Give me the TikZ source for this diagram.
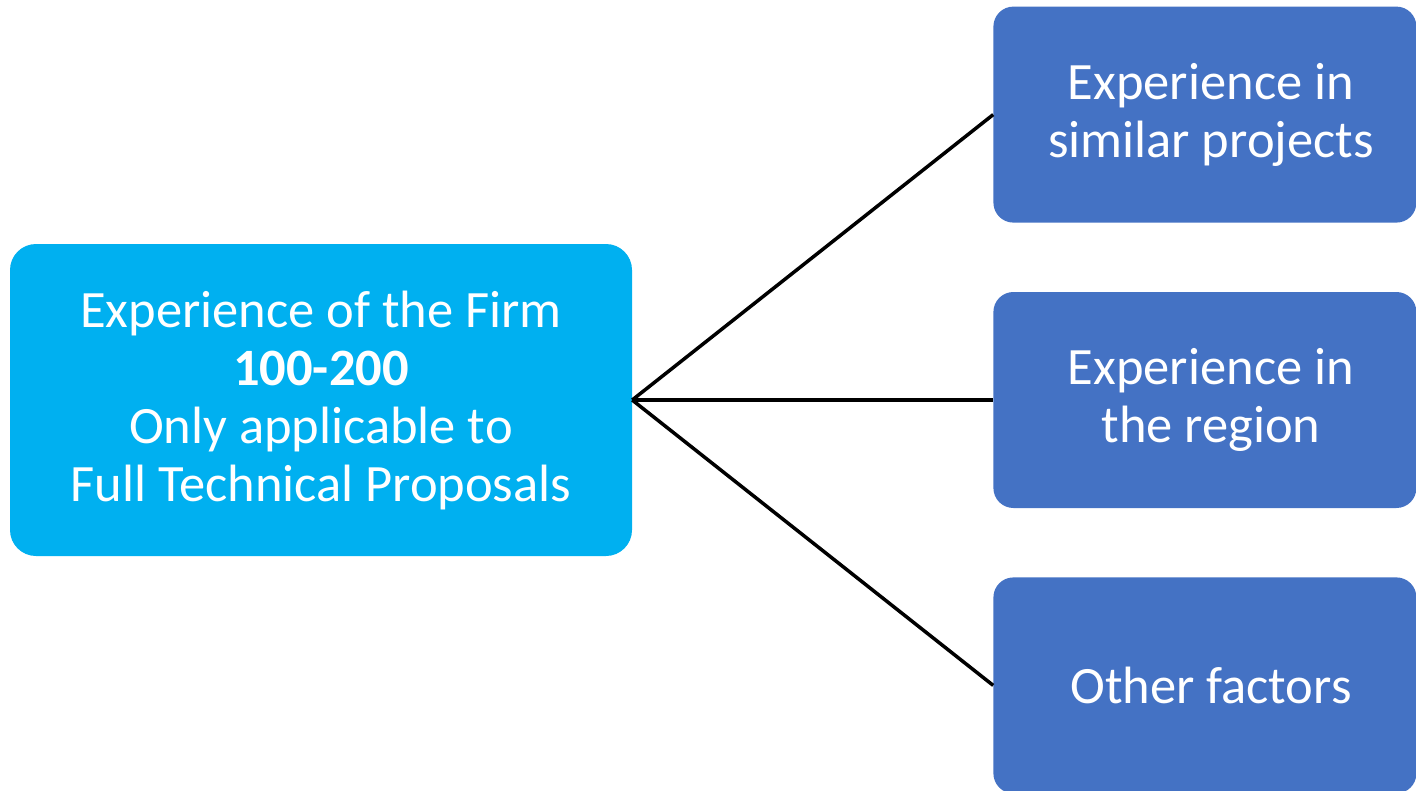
\documentclass[tikz,border=0pt]{standalone}
\usepackage{fontspec}
\setmainfont{Carlito}
\usetikzlibrary{positioning}
\definecolor{firmblue}{HTML}{00B0F0}
\definecolor{factorblue}{HTML}{4472C4}
\tikzstyle{firm} = [rectangle, rounded corners=26pt, minimum width=622pt, minimum height=312pt, align=center, fill=firmblue, text=white, inner sep=0pt]
\tikzstyle{factor} = [rectangle, rounded corners=20pt, minimum width=423pt, minimum height=216pt, align=center, fill=factorblue, text=white, inner sep=0pt]
\tikzstyle{link} = [line width=3.5pt, black]

\begin{document}
\begin{tikzpicture}[x=1pt, y=-1pt, node distance=69pt, font=\fontsize{52.5}{58}\selectfont] % px-sized units

\useasboundingbox (0,0) rectangle (1416,790);
\clip (0,0) rectangle (1416,790);

% Place the boxes
\node(firm)     [firm]                              at (321,400) {Experience of the Firm\\\textbf{100-200}\\Only applicable to\\Full Technical Proposals};
\node(region)   [factor, right=361pt of firm]       {\hspace*{12pt}Experience in\\\hspace*{12pt}the region};
\node(similar)  [factor, above=of region]           {\hspace*{12pt}Experience in\\\hspace*{12pt}similar projects};
\node(other)    [factor, below=of region]           {\hspace*{12pt}Other factors};

% Connect the boxes
\draw [link] (firm.east) -- (similar.west);
\draw [link] (firm.east) -- (region.west);
\draw [link] (firm.east) -- (other.west);

\end{tikzpicture}
\end{document}
